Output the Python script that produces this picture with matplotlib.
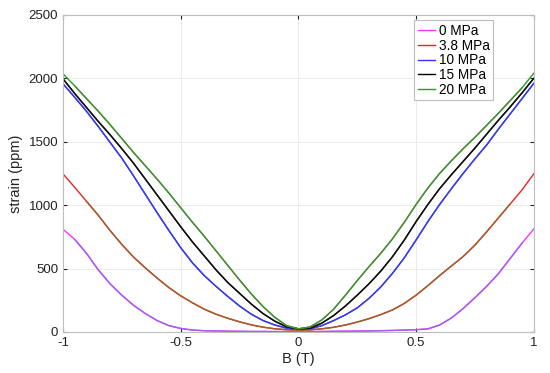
import matplotlib.pyplot as plt
import numpy as np

plt.rcParams['font.family'] = ['Liberation Sans', 'DejaVu Sans']

B = np.round(np.arange(-1, 1.0001, 0.05), 2)

labels = ["0 MPa", "3.8 MPa", "10 MPa", "15 MPa", "20 MPa"]

s0 = [810, 730, 620, 490, 380, 290, 210, 145, 90, 50, 28, 15, 10, 8, 6, 5, 4, 4, 3, 3,
      3, 3, 4, 5, 6, 7, 8, 10, 12, 15, 18, 24, 55, 110, 185, 270, 360, 460, 580, 700, 812]
s38 = [1247, 1140, 1030, 920, 800, 690, 590, 505, 425, 350, 285, 230, 180, 140, 108, 80, 56, 38, 25, 18,
       15, 17, 25, 37, 55, 78, 105, 137, 174, 225, 290, 365, 445, 520, 595, 685, 790, 900, 1010, 1120, 1247]
s10 = [1957, 1850, 1740, 1620, 1495, 1370, 1230, 1085, 940, 800, 665, 545, 445, 360, 280, 205, 140, 90, 55, 30,
       22, 25, 50, 90, 135, 190, 265, 355, 463, 585, 725, 870, 1005, 1130, 1250, 1365, 1475, 1600, 1720, 1840, 1960]
s15 = [1996, 1880, 1770, 1660, 1555, 1445, 1330, 1205, 1080, 955, 830, 710, 600, 490, 390, 305, 220, 145, 85, 40,
       25, 30, 70, 130, 205, 290, 380, 480, 594, 725, 870, 1005, 1130, 1240, 1345, 1450, 1560, 1670, 1775, 1885, 2000]
s20 = [2036, 1940, 1840, 1740, 1635, 1525, 1415, 1310, 1205, 1095, 980, 865, 755, 640, 525, 410, 300, 200, 115, 50,
       25, 40, 95, 180, 290, 405, 515, 620, 735, 865, 1005, 1135, 1250, 1350, 1445, 1535, 1630, 1725, 1825, 1925, 2040]
series = [s0, s38, s10, s15, s20]

# legend colours, and the colour each curve shows where the sweeps overlap
colors = ["#ff33ff", "#ee2222", "#3333ff", "#000000", "#22a022"]
inner_colors = ["#a060f0", "#a0602e", "#3a3ae8", "#111111", "#4f8a3a"]
inner_lim = [0.97, 0.92, 1.0, 1.0, 0.95]

fig = plt.figure(figsize=(5.5, 3.73), dpi=100)
ax = fig.add_axes([0.1145, 0.110, 0.856, 0.850])

for s, c, ic, lim, lab in zip(series, colors, inner_colors, inner_lim, labels):
    s = np.array(s)
    ax.plot(B, s, color=c, lw=1.0, label=lab)
    m = np.abs(B) <= lim + 1e-9
    ax.plot(B[m], s[m], color=ic, lw=1.0)

ax.set_xlim(-1, 1)
ax.set_ylim(0, 2500)
ax.set_xticks([-1, -0.5, 0, 0.5, 1])
ax.set_xticklabels(["-1", "-0.5", "0", "0.5", "1"])
ax.set_yticks(np.arange(0, 2501, 500))
ax.grid(True, color="#ebebeb", lw=0.7)
ax.set_axisbelow(True)
ax.tick_params(direction="in", length=3, labelsize=9.5, colors="#222222",
               top=True, right=True)
for sp in ax.spines.values():
    sp.set_color("#bdbdbd")
    sp.set_linewidth(0.8)
ax.set_xlabel("B (T)", fontsize=10.5, color="#222222", labelpad=2)
ax.set_ylabel("strain (ppm)", fontsize=10.5, color="#222222", labelpad=4)

leg = ax.legend(loc="upper right", bbox_to_anchor=(0.914, 0.983), fontsize=9.8,
                handlelength=1.3, handletextpad=0.25, labelspacing=0.06,
                borderpad=0.25, fancybox=False, framealpha=1, borderaxespad=0)
leg.get_frame().set_edgecolor("#bdbdbd")
leg.get_frame().set_linewidth(0.8)

plt.savefig("out.png", dpi=100)
